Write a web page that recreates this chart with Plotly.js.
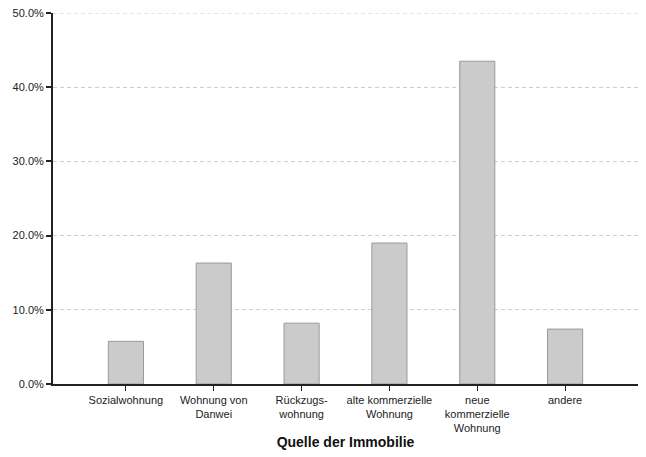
<!DOCTYPE html>
<html>
<head>
<meta charset="utf-8">
<script src="https://cdn.plot.ly/plotly-3.0.1.min.js"></script>
<style>
  html, body { margin: 0; padding: 0; background: #fff; }
  #chart { width: 646px; height: 457px; }
</style>
</head>
<body>
<div id="chart"></div>
<script>
// Quelle der Immobilie, share of respondents in percent
var categories = [
  'Sozialwohnung',
  'Wohnung von<br>Danwei',
  'Rückzugs-<br>wohnung',
  'alte kommerzielle<br>Wohnung',
  'neue<br>kommerzielle<br>Wohnung',
  'andere'
];
var shares = [5.75, 16.3, 8.2, 19.0, 43.5, 7.4];
var yTicks = [0, 10, 20, 30, 40, 50];
var yMax = yTicks[yTicks.length - 1];

var trace = {
  type: 'bar',
  x: categories,
  y: shares,
  width: 0.4,
  marker: { color: '#cbcbcb', line: { color: '#9a9a9a', width: 1 } },
  hoverinfo: 'x+y'
};

var layout = {
  width: 646,
  height: 457,
  margin: { l: 53, r: 8, t: 13, b: 73 },
  paper_bgcolor: '#fff',
  plot_bgcolor: '#fff',
  font: { family: 'Liberation Sans, Arial, sans-serif', size: 11, color: '#222' },
  showlegend: false,
  xaxis: {
    type: 'category',
    range: [-0.83, 5.83],
    showline: true,
    linecolor: '#222',
    linewidth: 1.5,
    showgrid: false,
    ticks: 'outside',
    ticklen: 5,
    tickcolor: '#222',
    tickfont: { size: 11, color: '#222' },
    title: { text: '<b>Quelle der Immobilie</b>', font: { size: 14, color: '#111' }, standoff: 4 },
    fixedrange: true
  },
  yaxis: {
    range: [0, yMax],
    tickvals: yTicks,
    ticktext: yTicks.map(function(v){ return v.toFixed(1) + '%'; }),
    showline: true,
    linecolor: '#222',
    linewidth: 2,
    ticks: 'outside',
    ticklen: 5,
    tickwidth: 2,
    tickcolor: '#222',
    showgrid: true,
    gridcolor: '#cfcfcf',
    griddash: '4px,3px',
    gridwidth: 1,
    zeroline: false,
    tickfont: { size: 11, color: '#222' },
    fixedrange: true
  },
  // top gridline (plotly skips the grid line that sits on the plot edge)
  shapes: [{
    type: 'line', xref: 'paper', yref: 'y',
    x0: 0, x1: 1, y0: yMax, y1: yMax,
    line: { color: '#cfcfcf', width: 1, dash: '4px,3px' },
    layer: 'below'
  }]
};

Plotly.newPlot('chart', [trace], layout, { displayModeBar: false, staticPlot: true });
</script>
</body>
</html>
